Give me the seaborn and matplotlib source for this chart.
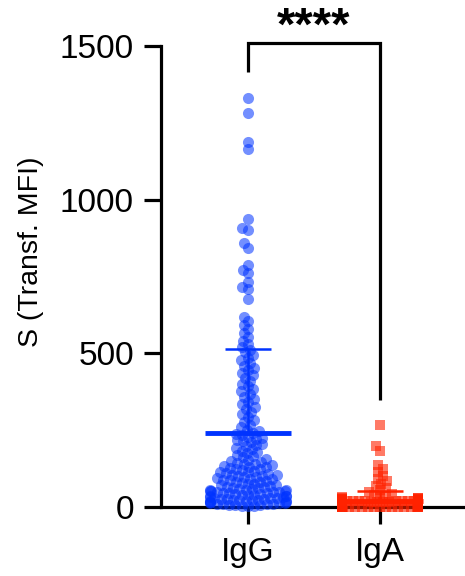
import matplotlib
matplotlib.use("Agg")
import matplotlib.pyplot as plt
import numpy as np
import pandas as pd
import seaborn as sns

groups = ["IgG", "IgA"]

igg = [1332, 1283, 1189, 1166, 938, 909, 900, 860, 844, 788, 772, 762, 733, 717, 709, 677, 618, 606,
       592, 578, 566, 552, 541, 530, 521, 512, 503, 494, 486, 477, 468, 460, 452,
       444, 436, 428, 419, 410, 401, 392, 384, 376, 368, 359, 351, 343, 334, 326, 318, 309, 301,
       293, 284, 276, 268, 259, 251,
       246, 242, 238, 234, 229, 225, 222, 219,
       214, 210, 205, 201, 197, 192, 188, 183, 179, 174, 170, 165, 161, 156, 152,
       148, 146, 143, 141, 139, 136, 134, 131, 129, 127, 124, 122, 119, 117, 114, 112, 110, 107,
       105, 103, 101, 100,
       98, 96, 94, 92, 90, 88, 86, 84, 82, 80, 78, 76, 74, 72, 70, 68, 66, 64, 62, 60,
       58, 57, 56, 55, 54, 53, 52, 51,
       49, 48, 47, 46, 45, 44, 42, 41, 40, 39, 38, 36, 35, 34, 33, 32, 30, 29, 28, 27,
       26, 25, 24, 23, 22, 21, 20, 19, 18, 17, 16, 15, 14, 13, 12, 11, 10, 9, 8, 7,
       6, 5, 4, 3, 2]

iga = [265, 197, 183, 135, 124, 112, 101, 92, 84, 76, 68, 61, 54, 47, 41,
       38, 36, 34, 32, 30, 29, 28, 27, 26,
       25, 25, 24, 24, 23, 23, 23, 22, 22, 22, 21, 21, 21, 20, 20, 20, 20, 19, 19, 19,
       19, 18, 18, 18, 18, 17, 17, 17, 17, 16, 16, 16, 16, 15, 15, 15, 15, 15, 15, 14, 14, 14,
       14, 14, 13, 13, 13, 13, 13, 12, 12, 12, 12, 12, 12, 12, 11, 11, 11, 11, 11, 11, 10,
       10, 10, 10, 10, 10, 9, 9, 9, 9, 9, 9, 9, 8, 8, 8, 8, 8, 8, 8, 8, 7,
       7, 7, 7, 7, 7, 7, 6, 6, 6, 6, 6, 6, 6, 6, 5, 5, 5, 5, 5, 5, 5,
       5, 5, 4, 4, 4, 4, 4, 4, 4, 4, 3, 3, 3, 3, 3, 3, 3, 3, 3, 2, 2,
       2, 2, 2, 2, 2, 1, 1, 1, 1, 1, 1, 1, 0, 0, 0, 0, 0, 0, 0, 0,
       0, 0, 0, 0, 0]

# group positions on a numeric x scale (keeps the swarm narrow relative to spacing)
xpos = {"IgG": 0.0, "IgA": 1.39}
colors = {"IgG": "#0033FF", "IgA": "#FF2200"}
markers = {"IgG": "o", "IgA": "s"}
alphas = {"IgG": 0.55, "IgA": 0.6}
swarm_size = {"IgG": 4.3, "IgA": 4.2}   # size used to lay out the swarm
draw_size = {"IgG": 8.0, "IgA": 7.0}    # size the markers are drawn with (overlapping, like Prism)

df = pd.DataFrame({
    "group": ["IgG"] * len(igg) + ["IgA"] * len(iga),
    "value": igg + iga,
})
df["x"] = df["group"].map(xpos)

sns.set_style("ticks")
plt.rcParams["font.family"] = ["Liberation Sans", "DejaVu Sans"]
plt.rcParams["text.color"] = "black"
plt.rcParams["axes.labelcolor"] = "black"

fig = plt.figure(figsize=(4.65, 5.76), dpi=100)
ax = fig.add_axes([0.346, 0.12, 0.654, 0.80])

swarms = []
for g in groups:
    sub = df[df["group"] == g]
    n_before = len(ax.collections)
    sns.swarmplot(data=sub, x="x", y="value", native_scale=True, orient="x",
                  color=colors[g], marker=markers[g], size=swarm_size[g], alpha=alphas[g],
                  linewidth=0, warn_thresh=1.0, ax=ax)
    for c in ax.collections[n_before:]:
        c.set_clip_on(False)
        swarms.append((g, c))

# mean and SD
for g in groups:
    i = xpos[g]
    vals = np.array(df.loc[df["group"] == g, "value"], dtype=float)
    m = vals.mean()
    sd = vals.std(ddof=1)
    ax.vlines(i, m, m + sd, color=colors[g], lw=1.8, zorder=3)
    ax.hlines(m + sd, i - 0.24, i + 0.24, color=colors[g], lw=1.8, zorder=3)
    ax.hlines(m, i - 0.45, i + 0.45, color=colors[g], lw=3.5, zorder=4)

ax.set_xlim(-0.916, 2.285)
ax.set_ylim(0, 1500)
ax.set_xticks([xpos[g] for g in groups])
ax.set_xticklabels(groups)
ax.set_yticks([0, 500, 1000, 1500])
ax.set_xlabel("")
ax.set_ylabel("S (Transf. MFI)", fontsize=20.5)
ax.yaxis.set_label_coords(-0.385, 0.553)

sns.despine(ax=ax)
for s in ["left", "bottom"]:
    ax.spines[s].set_linewidth(2.3)
    ax.spines[s].set_color("black")
ax.tick_params(axis="both", length=12.5, width=2.3, colors="black", labelsize=24)
ax.tick_params(axis="y", pad=7)
ax.tick_params(axis="x", pad=9)

# significance bracket
ax.plot([xpos["IgG"]] * 2 + [xpos["IgA"]] * 2, [1417, 1511, 1511, 348], color="black",
        lw=2.3, clip_on=False, solid_capstyle="butt", solid_joinstyle="miter")
ax.text((xpos["IgG"] + xpos["IgA"]) / 2, 1522, "****", ha="center", va="baseline",
        fontsize=34, fontweight="bold")

# lay out the swarms once, then freeze positions and enlarge the markers
fig.canvas.draw()
for g, c in swarms:
    if "draw" in c.__dict__:
        del c.draw
    c.set_sizes([draw_size[g] ** 2])

fig.savefig("out.png", dpi=100)
